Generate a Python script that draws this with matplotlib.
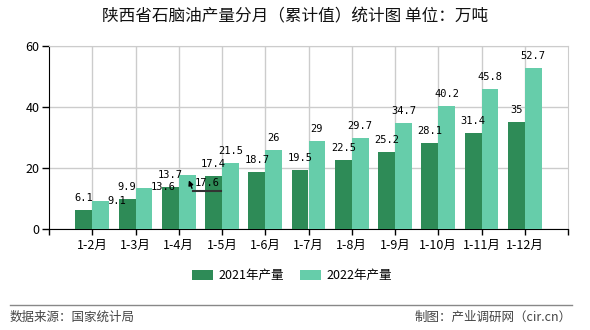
import numpy as np
import matplotlib
matplotlib.use("Agg")
from matplotlib import pyplot as plt
from matplotlib.lines import Line2D

plt.rcParams['font.family'] = ['Noto Sans CJK SC', 'DejaVu Sans']

# 数据
months = ['1-2月', '1-3月', '1-4月', '1-5月', '1-6月', '1-7月', '1-8月', '1-9月', '1-10月', '1-11月', '1-12月']
output_2021 = [6.1, 9.9, 13.7, 17.4, 18.7, 19.5, 22.5, 25.2, 28.1, 31.4, 35]
output_2022 = [9.1, 13.6, 17.6, 21.5, 26, 29, 29.7, 34.7, 40.2, 45.8, 52.7]
series_names = ['2021年产量', '2022年产量']
y_ticks = [0, 20, 40, 60]

dark = '#2E8B57'
light = '#66CDAA'

fig = plt.figure(figsize=(5.9, 3.3), dpi=100)
ax = fig.add_axes([49 / 590, 1 - 229 / 330, (568 - 49) / 590, (229 - 46) / 330])

x = np.arange(len(months))
w = 0.39
b1 = ax.bar(x - w / 2, output_2021, w, color=dark, label=series_names[0], zorder=3)
b2 = ax.bar(x + w / 2, output_2022, w, color=light, label=series_names[1], zorder=3)

ax.set_xlim(-1, len(months))
ax.set_ylim(0, 60)
ax.set_yticks(y_ticks)
ax.set_xticks(x)
ax.set_xticklabels(months, fontsize=9)
ax.set_xticks([-1, len(months)], minor=True)
ax.tick_params(axis='y', labelsize=9, length=5, width=1, pad=2)
ax.tick_params(axis='x', which='both', length=4, width=1, pad=3)

ax.grid(True, color='#cccccc', linewidth=1, zorder=0)
for s in ['left', 'bottom']:
    ax.spines[s].set_color('black')
for s in ['top', 'right']:
    ax.spines[s].set_color('#cccccc')

# 数据标签 (部分标签被错开)
mono = 'DejaVu Sans Mono'
moved_2022 = {0: (16, 0), 1: (19, 1), 2: (20, -8)}
for i, v in enumerate(output_2021):
    ax.annotate(f'{v:g}', (x[i] - w / 2, v), xytext=(0, 12), textcoords='offset pixels',
                ha='center', va='center', fontsize=7.5, family=mono, zorder=5)
for i, v in enumerate(output_2022):
    dx, dy = moved_2022.get(i, (0, 12))
    ax.annotate(f'{v:g}', (x[i] + w / 2, v), xytext=(dx, dy), textcoords='offset pixels',
                ha='center', va='center', fontsize=7.5, family=mono, zorder=5)

# 17.6 的引导线
ax.annotate('', xy=(2.21, 16.8), xytext=(2.33, 12.5),
            arrowprops=dict(arrowstyle='-|>', color='black', lw=1, mutation_scale=7))
ax.plot([2.33, 2.98], [12.5, 12.5], color='#333333', lw=1.5, zorder=4)

fig.text(0.5, 1 - 17 / 330, '陕西省石脑油产量分月（累计值）统计图 单位：万吨', ha='center', va='center',
         fontsize=12, color='#111111')

fig.legend(handles=[b1, b2], loc='center', bbox_to_anchor=(292 / 590, 1 - 276 / 330), ncol=2,
           frameon=False, fontsize=9, handlelength=1.7, handleheight=0.9, handletextpad=0.4,
           columnspacing=1.3)

fig.add_artist(Line2D([10 / 590, 572 / 590], [1 - 305 / 330] * 2, color='#888888', lw=1))
fig.text(10 / 590, 1 - 317 / 330, '数据来源：国家统计局', ha='left', va='center', fontsize=9, color='#444444')
fig.text(572 / 590, 1 - 317 / 330, '制图：产业调研网（cir.cn）', ha='right', va='center', fontsize=9, color='#444444')

fig.savefig('out.png', dpi=100)
